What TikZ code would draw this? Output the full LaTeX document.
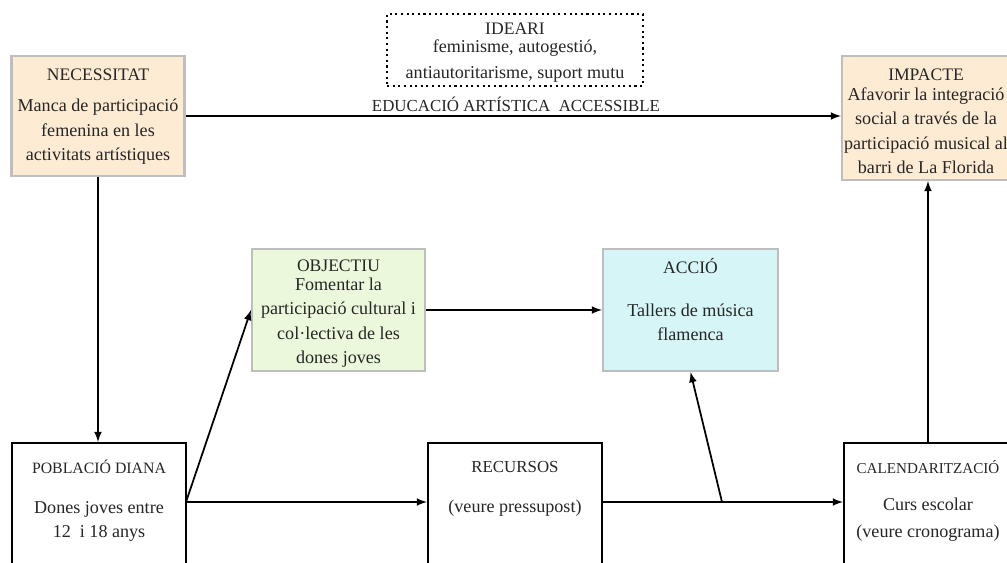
\documentclass[tikz,border=0pt]{standalone}
\usepackage{fontspec}
\setmainfont{Liberation Serif}
\usepackage{xcolor}
\usetikzlibrary{arrows}
\tikzset{>=latex}
\definecolor{peach}{RGB}{253,235,212}
\definecolor{mint}{RGB}{236,248,219}
\definecolor{aqua}{RGB}{213,245,247}
\definecolor{edge}{RGB}{190,190,190}
\definecolor{ink}{RGB}{38,38,38}

\begin{document}
\begin{tikzpicture}[x=0.02cm, y=-0.02cm]
                % px grid, origin top left; bottom row and right column run off the page
                \tikzstyle{softbox}=[draw=edge, line width=1.2pt, inner sep=0pt]
                \tikzstyle{hardbox}=[draw=black, line width=1.2pt, fill=white, inner sep=0pt]
                \tikzstyle{head}=[text=ink, font=\fontsize{9}{11}\selectfont, inner sep=0pt]
                \tikzstyle{body}=[text=ink, align=center, font=\fontsize{10.3}{13.9}\selectfont, inner sep=0pt]
                \tikzstyle{arr}=[black, ->, line width=1pt]
                \useasboundingbox (0,0) rectangle (1007,562);
                \clip (0,0) rectangle (1007,562);
                \fill[white] (0,0) rectangle (1007,562);
                % top row
                \node (NEC) [softbox, fill=peach, minimum width=3.46cm, minimum height=2.40cm] at (98,116) {};
                \node [head, font=\fontsize{10}{12}\selectfont] at (98,75) {NECESSITAT};
                \node [body] at (98,132) {Manca de participació\\femenina en les\\activitats artístiques};
                \node (IDE) [draw=black, dotted, line width=1.2pt, minimum width=5.12cm, minimum height=1.44cm] at (515,50) {};
                \node [head, font=\fontsize{10}{12}\selectfont] at (515,29) {IDEARI};
                \node [body, font=\fontsize{10.3}{14.8}\selectfont] at (515,61) {feminisme, autogestió,\\antiautoritarisme, suport mutu};
                \node (IMP) [softbox, fill=peach, minimum width=3.36cm, minimum height=2.48cm] at (926,118) {};
                \node [head, font=\fontsize{10}{12}\selectfont] at (926,75) {IMPACTE};
                \node [body] at (926,130.5) {Afavorir la integració\\social a través de la\\participació musical al\\barri de La Florida};
                % middle row
                \node (OBJ) [softbox, fill=mint, minimum width=3.46cm, minimum height=2.44cm] at (338.5,310) {};
                \node [head, font=\fontsize{10}{12}\selectfont] at (338.5,266) {OBJECTIU};
                \node [body] at (338.5,322.5) {Fomentar la\\participació cultural i\\col·lectiva de les\\dones joves};
                \node (ACC) [softbox, fill=aqua, minimum width=3.50cm, minimum height=2.44cm] at (690.5,310) {};
                \node [head, font=\fontsize{10}{12}\selectfont] at (690.5,266) {ACCIÓ};
                \node [body] at (690.5,322) {Tallers de música\\flamenca};
                % bottom row
                \node (POB) [hardbox, minimum width=3.48cm, minimum height=3.14cm] at (99,521.5) {};
                \node [head] at (99,467) {POBLACIÓ DIANA};
                \node [body, font=\fontsize{10.3}{13.2}\selectfont] at (99,521.5) {Dones joves entre\\12~ i 18 anys};
                \node (REC) [hardbox, minimum width=3.48cm, minimum height=3.14cm] at (515,521.5) {};
                \node [head, font=\fontsize{9.6}{11}\selectfont] at (515,467) {RECURSOS};
                \node [body] at (515,508) {(veure pressupost)};
                \node (CAL) [hardbox, minimum width=3.36cm, minimum height=3.14cm] at (928,521.5) {};
                \node [head, font=\fontsize{8.6}{11}\selectfont] at (928,467) {CALENDARITZACIÓ};
                \node [body, font=\fontsize{10.3}{15}\selectfont] at (928,519.5) {Curs escolar\\(veure cronograma)};
                % connectors
                \coordinate (J1) at (186,502);
                \coordinate (J2) at (722,502);
                \node (EDU) [text=ink, inner sep=0pt, font=\fontsize{9.6}{12}\selectfont] at (516,104) {EDUCACIÓ ARTÍSTICA~ ACCESSIBLE};
                \draw [arr] (NEC.east) -- (NEC.east -| IMP.west);
                \draw [arr] (NEC.south) -- (NEC.south |- POB.north);
                \draw [arr] (J1) -- (J1 -| REC.west);
                \draw [arr] (J1) -- (OBJ.west);
                \draw [arr] (OBJ.east) -- (ACC.west);
                \draw [arr] (J1 -| REC.east) -- (J1 -| CAL.west);
                \draw [arr] (J2) -- (ACC.south);
                \draw [arr] (CAL.north) -- (CAL.north |- IMP.south);
\end{tikzpicture}
\end{document}
